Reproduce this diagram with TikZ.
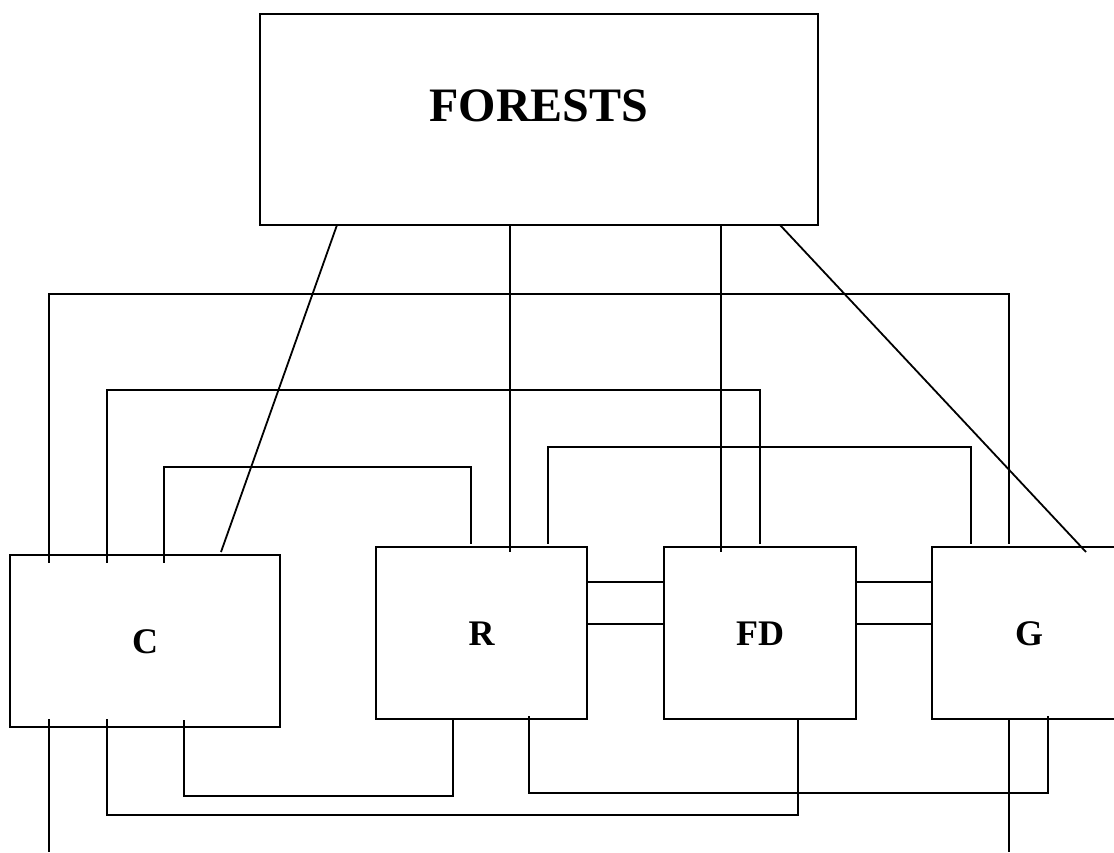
\documentclass[tikz,border=0pt]{standalone}
\usepackage{fontspec}
\setmainfont{Liberation Serif}
\usepackage{tikz}
\usetikzlibrary{calc}
\tikzset{
  MAIN/.style={% Style for the top box
      rectangle, line width=1.8pt,
      align=center,
      outer sep=0pt,
      minimum width=558pt,
      minimum height=211pt,
      text height=33pt,
          text depth=28pt,
      font=\fontsize{48}{56}\selectfont\bfseries,
      draw=black,
  },
  UNIT/.style={% Style for the lower boxes
      rectangle,
      line width=1.8pt,
      align=center,
      outer sep=0pt,
      minimum height=172pt,
      text height=25pt,
          text depth=0pt,
      font=\fontsize{36}{40}\selectfont\bfseries,
      draw=black,
  },
  wire/.style={
    to path={
      (\tikztostart) -- ++(0,\wirerise) -| (\tikztotarget)
    },
    wiring/.cd,#1
  },
  wiring/.cd,
  rise/.store in=\wirerise,
  rise = 20
}

\begin{document}
\begin{tikzpicture}[x=1pt, y=1pt, line width=1.8pt]
    \useasboundingbox (0,0) rectangle (1114,852);
    \node[MAIN] (F) at (539,732.5) {FORESTS};
    \node[UNIT, minimum width=270pt] (C) at (145,211) {C};
    \node[UNIT, minimum width=211pt] (R) at (481.5,219) {R};
    \node[UNIT, minimum width=192pt] (FD) at (760,219) {FD};
    \node[UNIT, minimum width=194pt] (G) at (1029,219) {G}; % right side runs off the page
    \coordinate (Cout) at (49,0); % free ends below
    \coordinate (Gout) at (1009,0);
    % FORESTS down to the four boxes
    \draw
      ([xshift=77pt]F.south west) -- ([xshift=211pt, yshift=3pt]C.north west)
      ([xshift=250pt]F.south west) -- ([xshift=134pt, yshift=-5pt]R.north west)
      ([xshift=461pt]F.south west) -- ([xshift=57pt, yshift=-5pt]FD.north west)
      ([xshift=520pt]F.south west) -- ([xshift=154pt, yshift=-5pt]G.north west);
    % links over the top
    \draw
      ([xshift=39pt, yshift=-8pt]C.north west) edge[wire={rise=269}] ([xshift=77pt, yshift=3pt]G.north west)
      ([xshift=97pt, yshift=-8pt]C.north west) edge[wire={rise=173}] ([xshift=96pt, yshift=3pt]FD.north west)
      ([xshift=154pt, yshift=-8pt]C.north west) edge[wire={rise=96}] ([xshift=95pt, yshift=3pt]R.north west)
      ([xshift=172pt, yshift=3pt]R.north west) edge[wire={rise=97}] ([xshift=39pt, yshift=3pt]G.north west);
    % double links side by side
    \foreach \a/\b in {R/FD, FD/G} {
      \draw ([yshift=-35pt]\a.north east) -- ([yshift=-35pt]\b.north west)
            ([yshift=-77pt]\a.north east) -- ([yshift=-77pt]\b.north west);
    }
    % links underneath
    \draw
      ([xshift=97pt, yshift=8pt]C.south west) edge[wire={rise=-96}] ([xshift=134pt]FD.south west)
      ([xshift=174pt, yshift=7pt]C.south west) edge[wire={rise=-76}] ([xshift=77pt]R.south west)
      ([xshift=153pt, yshift=3pt]R.south west) edge[wire={rise=-77}] ([xshift=116pt, yshift=3pt]G.south west)
      ([xshift=39pt, yshift=8pt]C.south west) -- (Cout)
      ([xshift=77pt]G.south west) -- (Gout);
\end{tikzpicture}
\end{document}
